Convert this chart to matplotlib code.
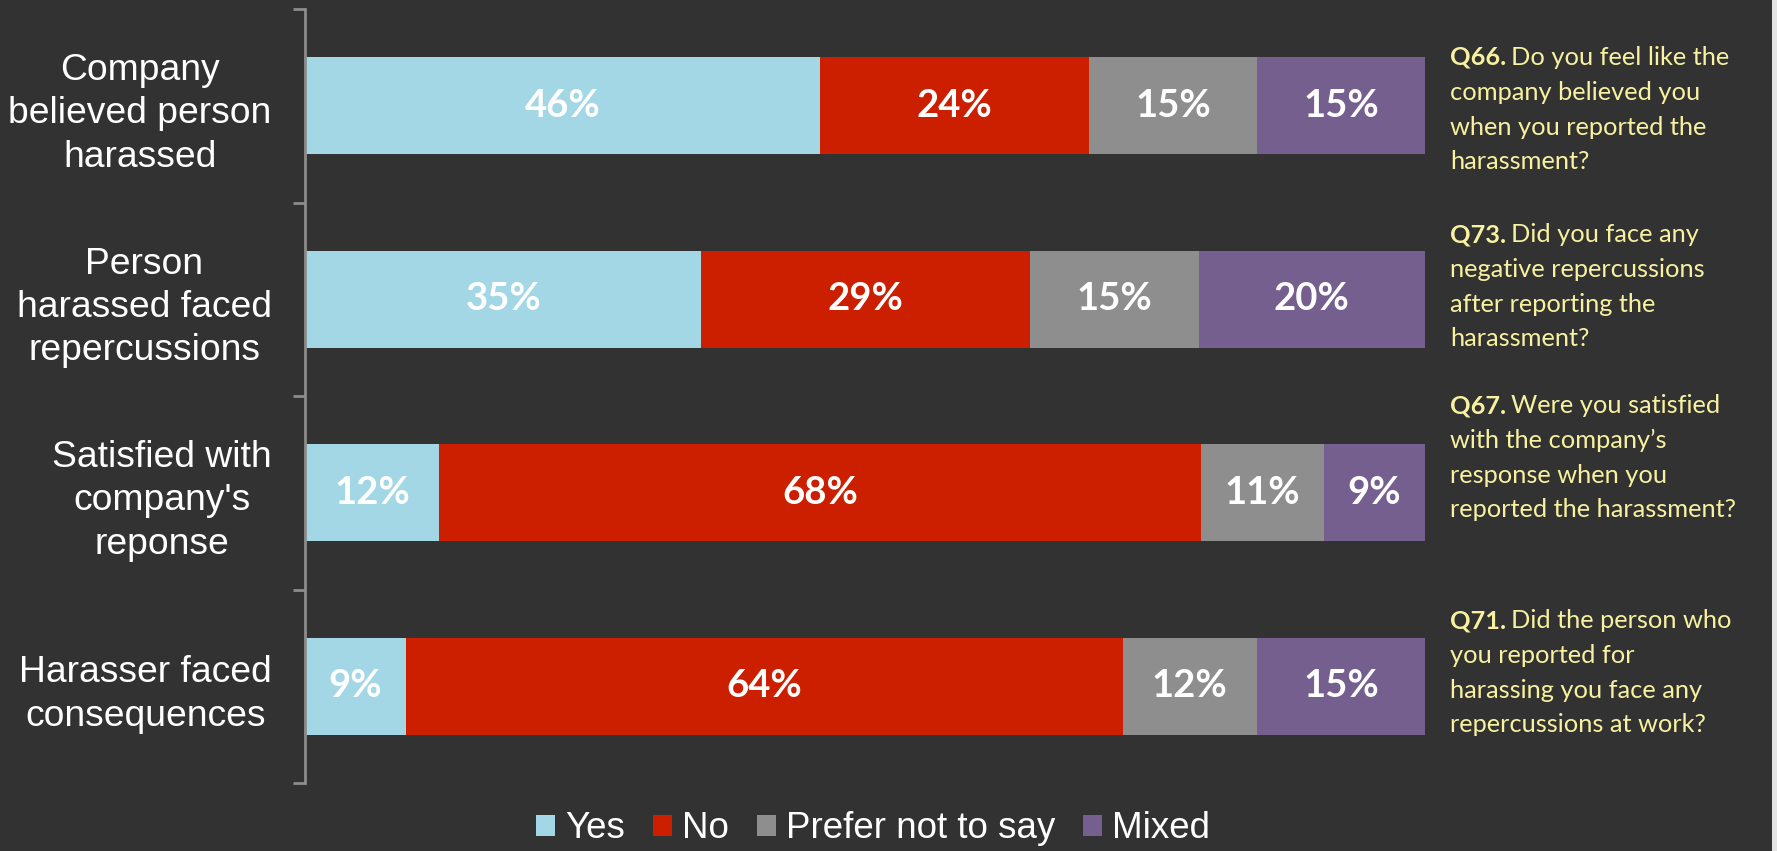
import matplotlib
matplotlib.use("Agg")
import matplotlib.pyplot as plt
from matplotlib.patches import Patch, Rectangle

# ---- data -------------------------------------------------------------
categories = [
    "Company\nbelieved person\nharassed",
    "Person\nharassed faced\nrepercussions",
    "Satisfied with\ncompany's\nreponse",
    "Harasser faced\nconsequences",
]
series_names = ["Yes", "No", "Prefer not to say", "Mixed"]
yes_pct = [46, 35.4, 12, 9]
no_pct = [24, 29.3, 68, 64]
prefer_pct = [15, 15.1, 11, 12]
mixed_pct = [15, 20.2, 9, 15]

question_ids = ["Q66.", "Q73.", "Q67.", "Q71."]
question_lines = [
    ["Do you feel like the", "company believed you", "when you reported the", "harassment?"],
    ["Did you face any", "negative repercussions", "after reporting the", "harassment?"],
    ["Were you satisfied", "with the company\u2019s", "response when you", "reported the harassment?"],
    ["Did the person who", "you reported for", "harassing you face any", "repercussions at work?"],
]

# ---- style ------------------------------------------------------------
BG = "#323232"
COLORS = ["#a3d7e5", "#cc1f00", "#8e8e8e", "#745f8f"]
SPINE = "#8c8c8c"
NOTE = "#f7f1a0"

W, H = 1777, 851
fig = plt.figure(figsize=(W / 100, H / 100), dpi=100, facecolor=BG)

# light strip along the right edge of the slide
fig.patches.append(Rectangle((1772 / W, 0), 1 - 1772 / W, 1, transform=fig.transFigure,
                             facecolor="#e4e4e4", edgecolor="none", zorder=0))

ax = fig.add_axes([305 / W, (H - 783) / H, 1120 / W, 774 / H])
ax.set_facecolor("none")

series = [yes_pct, no_pct, prefer_pct, mixed_pct]
ypos = list(range(len(categories)))
left = [0.0] * len(categories)
for name, vals, col in zip(series_names, series, COLORS):
    ax.barh(ypos, vals, left=left, height=0.5, color=col, edgecolor="none", label=name)
    for y, v, l in zip(ypos, vals, left):
        ax.text(l + v / 2, y, f"{v:.0f}%", ha="center", va="center", color="white",
                fontsize=27.5, fontweight="bold", family="Lato")
    left = [l + v for l, v in zip(left, vals)]

ax.set_xlim(0, 100)
ax.set_ylim(len(categories) - 0.5, -0.5)
for s in ("top", "right", "bottom"):
    ax.spines[s].set_visible(False)
ax.spines["left"].set_color(SPINE)
ax.spines["left"].set_linewidth(2)
ax.set_xticks([])

ax.set_yticks(ypos)
ax.set_yticklabels(categories, fontsize=26.8, family="Liberation Sans", color="white")
for lbl in ax.get_yticklabels():
    lbl.set_multialignment("center")
    lbl.set_linespacing(1.31)
ax.tick_params(axis="y", which="major", length=0, pad=24)
ax.set_yticks([y - 0.5 for y in ypos] + [len(categories) - 0.5], minor=True)
ax.tick_params(axis="y", which="minor", length=8.6, width=2, color=SPINE)

# ---- question notes on the right --------------------------------------
renderer = fig.canvas.get_renderer()
note_x = 1450
first_baselines = [65, 242, 413, 628]
line_step = 34.8
note_size = 18.3
for qid, lines, yb in zip(question_ids, question_lines, first_baselines):
    for i, line in enumerate(lines):
        yy = 1 - (yb + i * line_step) / H
        if i == 0:
            t = fig.text(note_x / W, yy, qid, color=NOTE, fontsize=note_size, family="Lato",
                         fontweight="bold", ha="left", va="baseline")
            bb = t.get_window_extent(renderer)
            fig.text((bb.x1 + 5) / W, yy, line, color=NOTE, fontsize=note_size, family="Lato",
                     ha="left", va="baseline")
        else:
            fig.text(note_x / W, yy, line, color=NOTE, fontsize=note_size, family="Lato",
                     ha="left", va="baseline")

# ---- legend -----------------------------------------------------------
handles = [Patch(facecolor=c, edgecolor="none") for c in COLORS]
fig.legend(handles, series_names, loc="center", bbox_to_anchor=(873 / W, 1 - 829 / H),
           ncol=4, frameon=False, prop={"family": "Liberation Sans", "size": 26.5},
           labelcolor="white", handlelength=0.52, handleheight=0.52,
           handletextpad=0.27, columnspacing=0.76, borderaxespad=0, borderpad=0)

fig.savefig("out.png", dpi=100, facecolor=BG)
